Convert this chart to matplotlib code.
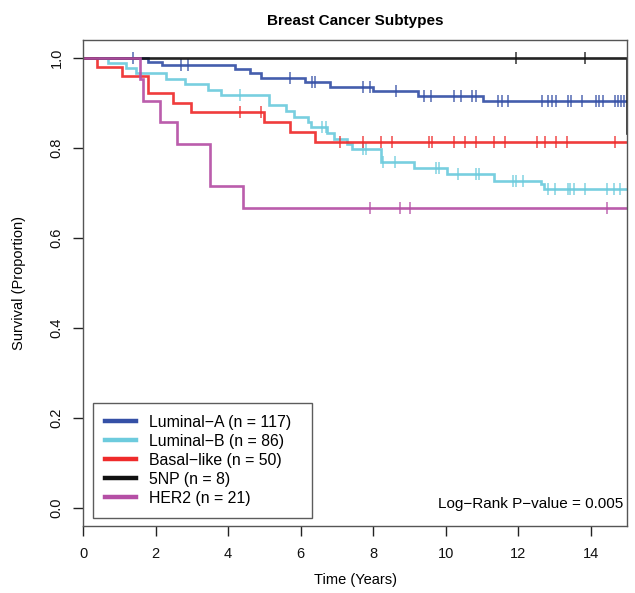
import numpy as np
import matplotlib
matplotlib.use("Agg")
import matplotlib.pyplot as plt
from matplotlib.lines import Line2D

plt.rcParams['font.family'] = ['Liberation Sans', 'DejaVu Sans']

# ---- data ----
group_names = ["Luminal-A", "Luminal-B", "Basal-like", "5NP", "HER2"]
group_n = [117, 86, 50, 8, 21]
group_colors = ["#3550A6", "#6DCBDD", "#EF2B2B", "#111111", "#B54FA5"]

luma_times = [1.79, 2.17, 4.20, 4.61, 4.91, 6.11, 6.81, 8.01, 9.23, 11.03]
luma_surv = [0.992, 0.984, 0.975, 0.966, 0.955, 0.946, 0.936, 0.927, 0.916, 0.905]
luma_cens = [1.39, 2.71, 2.89, 5.72, 6.32, 6.41, 7.73, 7.92, 8.63, 9.41, 9.60,
             10.23, 10.43, 10.73, 10.83, 11.43, 11.54, 11.72, 12.65, 12.83,
             12.94, 13.03, 13.36, 13.45, 13.75, 14.15, 14.23, 14.33, 14.66,
             14.74, 14.83, 14.93]

lumb_times = [0.68, 1.19, 1.46, 2.30, 2.80, 3.46, 3.80, 5.12, 5.61, 5.81, 6.20,
              6.30, 6.72, 6.92, 7.29, 7.43, 8.21, 9.14, 10.03, 11.33, 12.63, 12.72]
lumb_surv = [0.988, 0.977, 0.966, 0.953, 0.942, 0.930, 0.918, 0.896, 0.883,
             0.870, 0.858, 0.846, 0.833, 0.819, 0.810, 0.797, 0.770, 0.756,
             0.742, 0.727, 0.719, 0.710]
lumb_cens = [4.32, 6.60, 6.69, 7.73, 7.80, 8.26, 8.60, 9.74, 9.81, 10.34, 10.84,
             10.92, 11.86, 11.93, 12.14, 12.83, 13.02, 13.37, 13.44, 13.54,
             13.85, 14.45, 14.63, 14.82]

basal_times = [0.38, 1.07, 1.78, 2.48, 2.99, 4.98, 5.72, 6.41]
basal_surv = [0.981, 0.960, 0.922, 0.901, 0.880, 0.858, 0.836, 0.814]
basal_cens = [4.32, 4.91, 7.10, 7.73, 8.22, 8.52, 9.53, 9.62, 10.23, 10.54,
              10.83, 11.33, 11.63, 12.53, 12.74, 13.04, 13.35, 14.66]

np5_times = [14.99]
np5_surv = [0.833]
np5_cens = [11.93, 13.85]

her2_times = [1.57, 1.66, 2.11, 2.60, 3.49, 4.41]
her2_surv = [0.953, 0.905, 0.858, 0.809, 0.716, 0.667]
her2_cens = [7.92, 8.73, 9.02, 14.45]

all_times = [luma_times, lumb_times, basal_times, np5_times, her2_times]
all_surv = [luma_surv, lumb_surv, basal_surv, np5_surv, her2_surv]
all_cens = [luma_cens, lumb_cens, basal_cens, np5_cens, her2_cens]

x_end = 15.0
x_ticks = [0, 2, 4, 6, 8, 10, 12, 14]
y_ticks = [0.0, 0.2, 0.4, 0.6, 0.8, 1.0]
p_value_text = "Log\u2212Rank P\u2212value = 0.005"

# ---- figure ----
fig = plt.figure(figsize=(6.35, 5.93), dpi=100)
ax = fig.add_axes([83 / 635, 1 - 526 / 593, (627 - 83) / 635, (526 - 40) / 593])


def surv_at(times, surv, t):
    s = 1.0
    for ti, si in zip(times, surv):
        if ti <= t:
            s = si
    return s


for times, surv, cens, col in zip(all_times, all_surv, all_cens, group_colors):
    xs = [0.0] + list(times) + [x_end]
    ys = [1.0] + list(surv) + [surv[-1]]
    ax.step(xs, ys, where='post', color=col, lw=1.9, alpha=0.92,
            solid_joinstyle='miter')
    cy = [surv_at(times, surv, c) for c in cens]
    ax.plot(cens, cy, linestyle='none', marker='|', markersize=8.5,
            markeredgewidth=1.1, color=col, alpha=0.85)

ax.set_xlim(0, 15)
ax.set_ylim(-0.04, 1.04)
ax.set_xticks(x_ticks)
ax.set_xticklabels([str(v) for v in x_ticks])
ax.set_yticks(y_ticks)
ax.set_yticklabels([f"{v:.1f}" for v in y_ticks], rotation=90, va='center')
ax.tick_params(axis='both', direction='out', length=7, width=1,
               colors='#222222', labelsize=10.5, labelcolor='#111111')
ax.tick_params(axis='x', pad=8)
ax.tick_params(axis='y', pad=7)
for sp in ax.spines.values():
    sp.set_color('#555555')
    sp.set_linewidth(1.0)

ax.set_title("Breast Cancer Subtypes", fontsize=11, fontweight='bold', pad=11)
ax.set_xlabel("Time (Years)", fontsize=10.5, labelpad=9)
ax.set_ylabel("Survival (Proportion)", fontsize=10.5, labelpad=17)

handles = [Line2D([0], [0], color=c, lw=3.2) for c in group_colors]
labels = [f"{nm} (n = {n})".replace("-", "\u2212") + "  "
          for nm, n in zip(group_names, group_n)]
leg = ax.legend(handles, labels, loc='lower left', bbox_to_anchor=(0.018, 0.017),
                borderaxespad=0, frameon=True, fancybox=False, fontsize=11.4,
                handlelength=1.95, handletextpad=0.85, labelspacing=0.25,
                borderpad=0.75)
leg.get_frame().set_edgecolor('#333333')
leg.get_frame().set_linewidth(1.0)

ax.text(0.993, 0.03, p_value_text, transform=ax.transAxes, ha='right',
        va='bottom', fontsize=11)

fig.savefig("out.png", dpi=100)
